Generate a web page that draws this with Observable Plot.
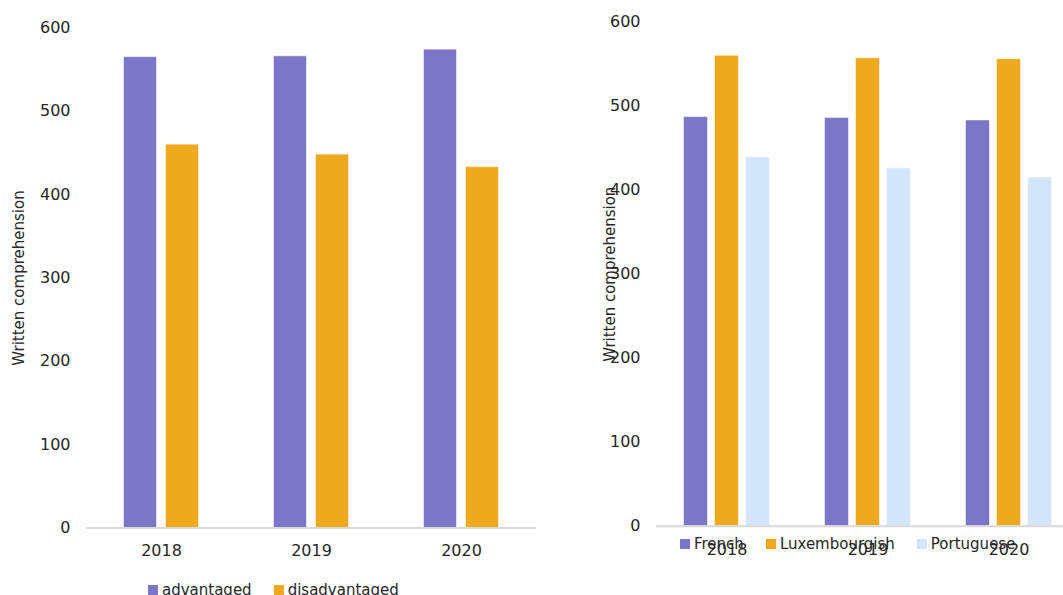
<!DOCTYPE html>
<html><head><meta charset="utf-8">
<script src="https://cdn.jsdelivr.net/npm/d3@7"></script>
<script src="https://cdn.jsdelivr.net/npm/@observablehq/plot@0.6"></script>
<style>
html,body{margin:0;padding:0;background:#fff;overflow:hidden;width:1063px;height:595px;position:relative;}
.panel{position:absolute;top:0;}
.panel svg{max-width:none !important;}
.legend{position:absolute;display:flex;font:15px "DejaVu Sans";color:#262626;white-space:nowrap;}
.legend .item{display:flex;align-items:center;margin-right:22px;}
.legend .sw{width:10px;height:10px;margin-right:4px;flex:none;}
svg [aria-label="y-axis label"]{font-size:15px;}
</style></head><body>
<div id="left" class="panel" style="left:0;width:540px"></div>
<div id="right" class="panel" style="left:590px;width:489px"></div>
<div id="legL" class="legend" style="left:148px;top:581px"></div>
<div id="legR" class="legend" style="left:680px;top:535px"></div>
<script>
const years = ["2018", "2019", "2020"];
const groupSeries = ["advantaged", "disadvantaged"];
const advantaged = [565, 566, 574];
const disadvantaged = [460, 448, 433];
const langSeries = ["French", "Luxembourgish", "Portuguese"];
const french = [487, 486, 483];
const luxembourgish = [560, 557, 556];
const portuguese = [439, 426, 415];
const yTicks = [0, 100, 200, 300, 400, 500, 600];
const yTitle = "Written comprehension";
const purple = "#7B76C8", orange = "#EFA91F", lightBlue = "#D2E5FA";

function chart(o) {
  const data = [];
  years.forEach((yr, i) => o.series.forEach((s, j) => data.push({year: yr, series: s, value: o.values[j][i]})));
  return Plot.plot({
    width: o.width, height: o.height,
    marginLeft: o.marginLeft, marginRight: o.marginRight, marginTop: o.marginTop, marginBottom: o.marginBottom,
    style: {fontFamily: "DejaVu Sans", fontSize: "16px", color: "#262626", background: "white", overflow: "visible"},
    fx: {domain: years, padding: 0, axis: "bottom", label: null, tickSize: 0, tickPadding: 17},
    x: {domain: o.series, paddingInner: o.paddingInner, paddingOuter: o.paddingOuter, axis: null},
    y: {domain: [0, 600], ticks: yTicks, tickSize: 0, tickPadding: 16, label: yTitle, labelArrow: "none", labelAnchor: "center", labelOffset: o.labelOffset},
    color: {domain: o.series, range: o.colors},
    marks: [
      Plot.barY(data, {fx: "year", x: "series", y: "value", fill: "series", stroke: "white", strokeOpacity: 0.5, strokeWidth: 1}),
      Plot.ruleY([0], {stroke: "#d9d9d9", strokeWidth: 2})
    ]
  });
}

function legend(el, series, colors) {
  series.forEach((s, i) => {
    const it = document.createElement("div"); it.className = "item";
    const sw = document.createElement("span"); sw.className = "sw"; sw.style.background = colors[i];
    const t = document.createElement("span"); t.textContent = s;
    it.appendChild(sw); it.appendChild(t); el.appendChild(it);
  });
}

document.getElementById("left").appendChild(chart({
  series: groupSeries, values: [advantaged, disadvantaged], colors: [purple, orange],
  width: 540, height: 562.5, marginLeft: 85.5, marginRight: 4.5, marginTop: 27.5, marginBottom: 35,
  paddingInner: 0.209, paddingOuter: 0.849, labelOffset: 73.5
}));
document.getElementById("right").appendChild(chart({
  series: langSeries, values: [french, luxembourgish, portuguese], colors: [purple, orange, lightBlue],
  width: 488.5, height: 560.7, marginLeft: 65.5, marginRight: 0, marginTop: 21.7, marginBottom: 35,
  paddingInner: 0.21, paddingOuter: 0.879, labelOffset: 52.5
}));
legend(document.getElementById("legL"), groupSeries, [purple, orange]);
legend(document.getElementById("legR"), langSeries, [purple, orange, lightBlue]);
</script>
</body></html>
